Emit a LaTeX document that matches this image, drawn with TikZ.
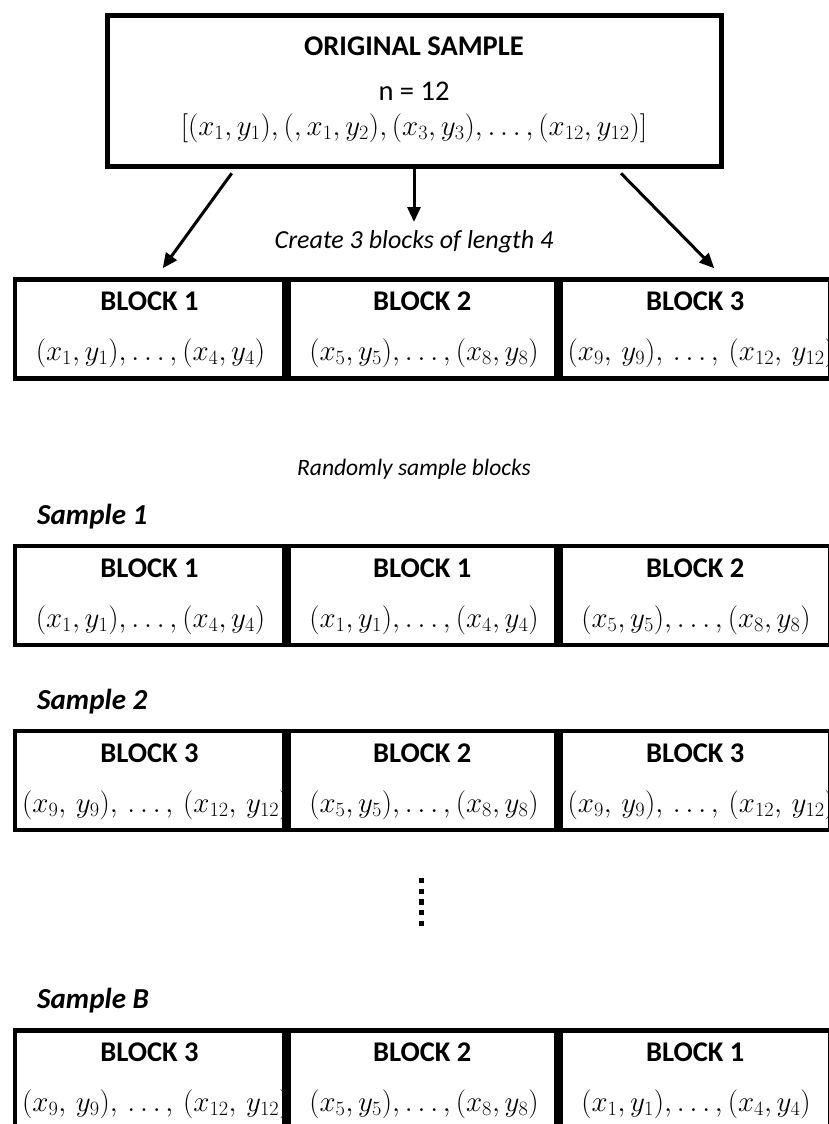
\RequirePackage{fix-cm}
\documentclass[tikz,border=0pt]{standalone}
\usepackage[no-math]{fontspec}
\setmainfont{Carlito}
\usetikzlibrary{arrows.meta}
\tikzset{
  frame/.style={draw, line width=5pt, fill=white, inner sep=0pt},
  cell/.style={draw, line width=4.5pt, fill=white, inner sep=0pt, minimum height=99pt},
  titletext/.style={font=\fontsize{28.5}{32}\selectfont\bfseries, anchor=base, inner sep=0pt},
  plaintext/.style={font=\fontsize{28.5}{32}\selectfont, anchor=base, inner sep=0pt},
  formula/.style={font=\fontsize{29}{33}\selectfont, anchor=base, inner sep=0pt},
  longformula/.style={font=\fontsize{29}{33}\selectfont, anchor=base west, inner sep=0pt},
  topformula/.style={font=\fontsize{29}{33}\selectfont, anchor=base, inner sep=0pt},
  captiontext/.style={font=\fontsize{26}{30}\selectfont\itshape, anchor=base, inner sep=0pt},
  smallcaption/.style={font=\fontsize{23.5}{28}\selectfont\itshape, anchor=base, inner sep=0pt},
  samplelabel/.style={font=\fontsize{29}{33}\selectfont\bfseries\itshape, anchor=base west, inner sep=0pt},
  arrowline/.style={line width=3pt, -{Triangle[length=15pt,width=13pt]}},
  dotsq/.style={fill=black, draw=none, minimum size=5.3pt, inner sep=0pt},
}
% a formula in a cell: #1 = 0 centred, 1 long (left aligned, overflowing)
\newcommand{\cellformula}[4]{%
  \ifnum#1=0
    \node[formula] (#2) at (#3+1, #4) {\bAB{#2}};
  \fi
}
% #1 top, #2 name, #3 title1, #4 formula-key1, #5 title2, #6 key2, #7 title3, #8 key3
\newcommand{\fcell}[4]{% key, name, left, baseline
  \ifcase#1
    \node[formula] (#2) at (#3+135.5, #4) {$(x_1,y_1),\ldots,(x_4,y_4)$};
  \or
    \node[formula] (#2) at (#3+135.5, #4) {$(x_5,y_5),\ldots,(x_8,y_8)$};
  \or
    \node[longformula] (#2) at (#3+7, #4) {$(x_9,\,y_9),\,\ldots,\,(x_{12},\,y_{12})$};
  \fi
}
\newcommand{\blockrow}[8]{%
  \node[cell, minimum width=269pt] (#2a) at (149.5, #1+49.5) {};
  \node[titletext] (#2at) at (149.5, #1+31) {#3};
  \fcell{#4}{#2af}{15}{#1+81}
  \node[cell, minimum width=267.5pt] (#2b) at (422.25, #1+49.5) {};
  \node[titletext] (#2bt) at (422.25, #1+31) {#5};
  \fcell{#6}{#2bf}{288.5}{#1+81}
  \node[cell, minimum width=269.5pt] (#2c) at (695.25, #1+49.5) {};
  \node[titletext] (#2ct) at (695.25, #1+31) {#7};
  \fcell{#8}{#2cf}{560.5}{#1+81}
}
\begin{document}
\begin{tikzpicture}[x=1pt, y=-1pt]
\useasboundingbox (0,0) rectangle (828,1124);
% original sample
\node[frame, minimum width=614pt, minimum height=150pt] (orig) at (414,91) {};
\node[titletext] (origt) at (414,56) {ORIGINAL SAMPLE};
\node[plaintext] (orign) at (414,100) {n = 12};
\node[topformula] (origf) at (414,135) {$[(x_1,y_1),(,x_1,y_2),(x_3,y_3),\ldots,(x_{12},y_{12})]$};
% arrows
\coordinate (a1s) at (231.7,173.3);
\coordinate (a1e) at (162.7,268.3);
\coordinate (a2s) at (414,166);
\coordinate (a2e) at (414,222);
\coordinate (a3s) at (621,173.3);
\coordinate (a3e) at (714.3,268.3);
\draw[arrowline] (a1s) -- (a1e);
\draw[arrowline] (a2s) -- (a2e);
\draw[arrowline] (a3s) -- (a3e);
\node[captiontext] (create) at (414,248) {Create 3 blocks of length 4};
% blocks
\blockrow{279.5}{r}{BLOCK 1}{0}{BLOCK 2}{1}{BLOCK 3}{2}
\node[smallcaption] (rand) at (414,475) {Randomly sample blocks};
\node[samplelabel] (lab1) at (37,524) {Sample 1};
\blockrow{546}{s}{BLOCK 1}{0}{BLOCK 1}{0}{BLOCK 2}{1}
\node[samplelabel] (lab2) at (37,709) {Sample 2};
\blockrow{731}{t}{BLOCK 3}{2}{BLOCK 2}{1}{BLOCK 3}{2}
% vertical dots
\foreach \i in {0,...,4} {
  \node[dotsq] (dot\i) at (421.7, 880.7+10.67*\i) {};
}
\node[samplelabel] (labB) at (37,1008) {Sample B};
\blockrow{1030.5}{u}{BLOCK 3}{2}{BLOCK 2}{1}{BLOCK 1}{0}
\end{tikzpicture}
\end{document}
